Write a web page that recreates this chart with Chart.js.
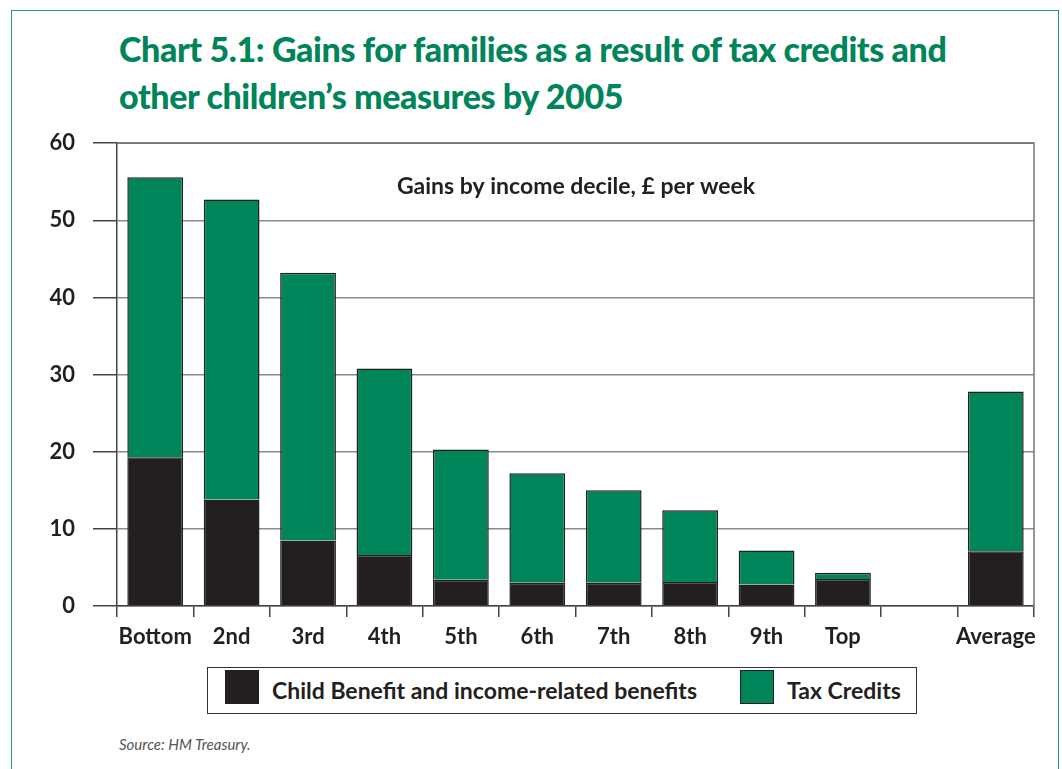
<!DOCTYPE html>
<html>
<head>
<meta charset="utf-8">
<script src="https://cdn.jsdelivr.net/npm/chart.js@4.4.1/dist/chart.umd.min.js"></script>
<style>
  body { margin: 0; background: #fff; font-family: Lato, "DejaVu Sans", sans-serif; }
  #frame { position: absolute; left: 11px; top: 10px; width: 1046px; height: 780px;
           border: 1.5px solid #2a9a6a; border-bottom: none; }
  #title { position: absolute; left: 119px; top: 25px; color: #00845a; font-weight: 900;
           font-size: 34px; line-height: 47px; letter-spacing: -0.4px; }
  #box { position: absolute; left: 30px; top: 112px; width: 1020px; height: 553px; }
  #legend { position: absolute; left: 207px; top: 667px; width: 708px; height: 45px;
            border: 1.5px solid #333; }
  .sw { position: absolute; top: 2px; width: 34px; height: 34px; border: 1px solid #231f20; box-sizing: border-box; }
  .lt { position: absolute; top: 8px; font-weight: 700; font-size: 23px; color: #231f20; }
  #source { position: absolute; left: 119px; top: 735px; font-style: italic; font-size: 15px; color: #555; }
</style>
</head>
<body>
<div id="frame"></div>
<div id="title">Chart 5.1: Gains for families as a result of tax credits and<br>other children’s measures by 2005</div>
<div id="box"><canvas id="myChart"></canvas></div>
<div id="legend">
  <div class="sw" style="left:17px;background:#231f20"></div>
  <div class="lt" style="left:64px">Child Benefit and income-related benefits</div>
  <div class="sw" style="left:532px;background:#00845a"></div>
  <div class="lt" style="left:579px">Tax Credits</div>
</div>
<div id="source">Source: HM Treasury.</div>
<script>
let deciles = [ 'Bottom', '2nd', '3rd', '4th', '5th', '6th', '7th', '8th', '9th', 'Top', '', 'Average' ];
let benefits = [ 19.3, 13.8, 8.5, 6.6, 3.4, 3.0, 3.0, 3.1, 2.8, 3.5, null, 7.1 ];
let taxCredits = [ 36.3, 38.9, 34.7, 24.2, 16.9, 14.2, 12.0, 9.3, 4.4, 0.8, null, 20.7 ];
let yTicks = [ 0, 10, 20, 30, 40, 50, 60 ];

// subtitle inside plot + frame lines
let extras = {
  id : 'extras',
  afterDraw(chart) {
    let c = chart.ctx, a = chart.chartArea;
    c.save();
    c.strokeStyle = '#777';
    c.lineWidth = 1.5;
    c.beginPath();
    c.moveTo(a.left, a.top); c.lineTo(a.right, a.top); c.lineTo(a.right, a.bottom);
    c.stroke();
    c.fillStyle = '#231f20';
    c.font = 'bold 23px Lato';
    c.textAlign = 'center';
    c.fillText('Gains by income decile, £ per week', a.left + 459, a.top + 51);
    c.restore();
  }
};

let ctx = document.getElementById('myChart').getContext('2d');
let gainsChart = new Chart(ctx, {
  type : 'bar',
  data : {
    labels : deciles,
    datasets : [ {
      label : 'Child Benefit and income-related benefits',
      data : benefits,
      backgroundColor : '#231f20',
      borderColor : '#231f20',
      borderWidth : 1.5,
      barPercentage : 0.73,
      categoryPercentage : 1
    }, {
      label : 'Tax Credits',
      data : taxCredits,
      backgroundColor : '#00845a',
      borderColor : '#231f20',
      borderWidth : 1.5,
      barPercentage : 0.73,
      categoryPercentage : 1
    } ]
  },
  options : {
    responsive : true,
    maintainAspectRatio : false,
    animation : false,
    layout : { padding : { top : 4, right : 16, left : 0, bottom : 0 } },
    plugins : { legend : { display : false }, tooltip : { enabled : false } },
    scales : {
      x : {
        stacked : true,
        grid : { offset : true, drawOnChartArea : false, tickLength : 11, tickColor : '#444', lineWidth : 1.5 },
        border : { color : '#444', width : 1.5 },
        ticks : { color : '#231f20', font : { family : 'Lato', weight : 'bold', size : 22 }, padding : 7,
                  maxRotation : 0, autoSkip : false },
        afterFit(s) { s.height = 59; }
      },
      y : {
        stacked : true,
        min : 0, max : 60,
        afterBuildTicks(s) { s.ticks = yTicks.map(v => ({ value : v })); },
        grid : { color : '#8a8a8a', tickColor : '#444', lineWidth : 1.5, tickLength : 24 },
        border : { color : '#444', width : 1.5 },
        ticks : { color : '#231f20', font : { family : 'Lato', weight : 'bold', size : 22 }, padding : 18 },
        afterFit(s) { s.width = 87; }
      }
    }
  },
  plugins : [ extras ]
});
</script>
</body>
</html>
